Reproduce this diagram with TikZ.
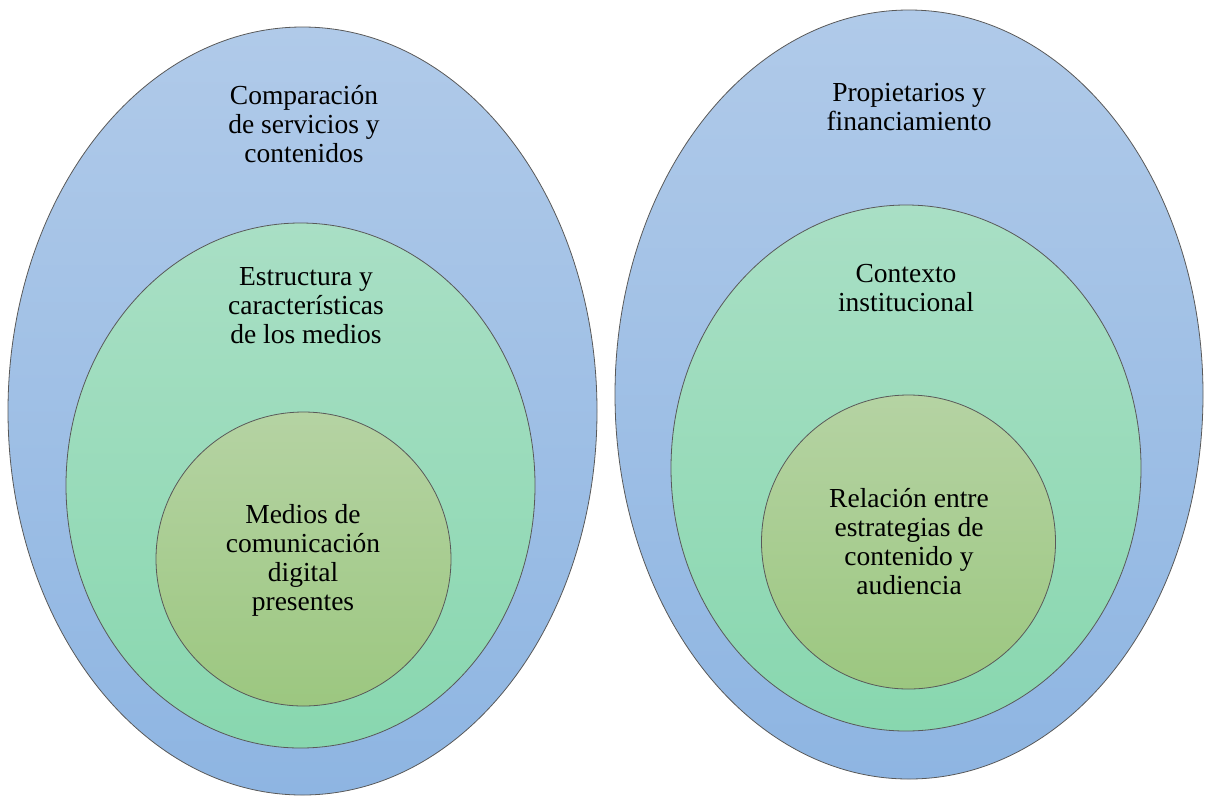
\documentclass[tikz,border=0pt]{standalone}
\usepackage{fontspec}
\setmainfont{Liberation Serif}
\usetikzlibrary{shapes.geometric}
\definecolor{outtop}{RGB}{176,202,233}
\definecolor{outbot}{RGB}{142,181,226}
\definecolor{midtop}{RGB}{169,223,197}
\definecolor{midbot}{RGB}{136,215,175}
\definecolor{intop}{RGB}{181,211,163}
\definecolor{inbot}{RGB}{156,199,128}
\tikzset{
  ring/.style={ellipse, inner sep=0pt, draw=black!65, line width=0.8pt},
  outer/.style={ring, top color=outtop, bottom color=outbot},
  middle/.style={ring, top color=midtop, bottom color=midbot},
  inner/.style={ring, top color=intop, bottom color=inbot},
  lbl/.style={align=center, font=\fontsize{27.5}{29}\selectfont, inner sep=0pt}
}
\begin{document}
\begin{tikzpicture}[x=1pt,y=-1pt]
\useasboundingbox (0,0) rectangle (1206,796);
% left group
\node[outer, minimum width=589pt, minimum height=768pt] (LO) at (302.5,411) {};
\node[middle, minimum width=469pt, minimum height=525pt] (LM) at (300.5,485.5) {};
\node[inner, minimum width=295pt, minimum height=294pt] (LI) at (303.5,559) {};
% right group
\node[outer, minimum width=588pt, minimum height=769pt] (RO) at (909,394.5) {};
\node[middle, minimum width=470pt, minimum height=526pt] (RM) at (906,468) {};
\node[inner, minimum width=294pt, minimum height=294pt] (RI) at (908.5,542) {};
% labels
\node[lbl] (tLO) at (304,124) {Comparación\\de servicios y\\contenidos};
\node[lbl] (tLM) at (306,306) {Estructura y\\características\\de los medios};
\node[lbl] (tLI) at (303,560) {Medios de\\comunicación\\digital\\presentes};
\node[lbl] (tRO) at (909,107) {Propietarios y\\financiamiento};
\node[lbl] (tRM) at (906,288) {Contexto\\institucional};
\node[lbl] (tRI) at (909,542) {Relación entre\\estrategias de\\contenido y\\audiencia};
\end{tikzpicture}
\end{document}
